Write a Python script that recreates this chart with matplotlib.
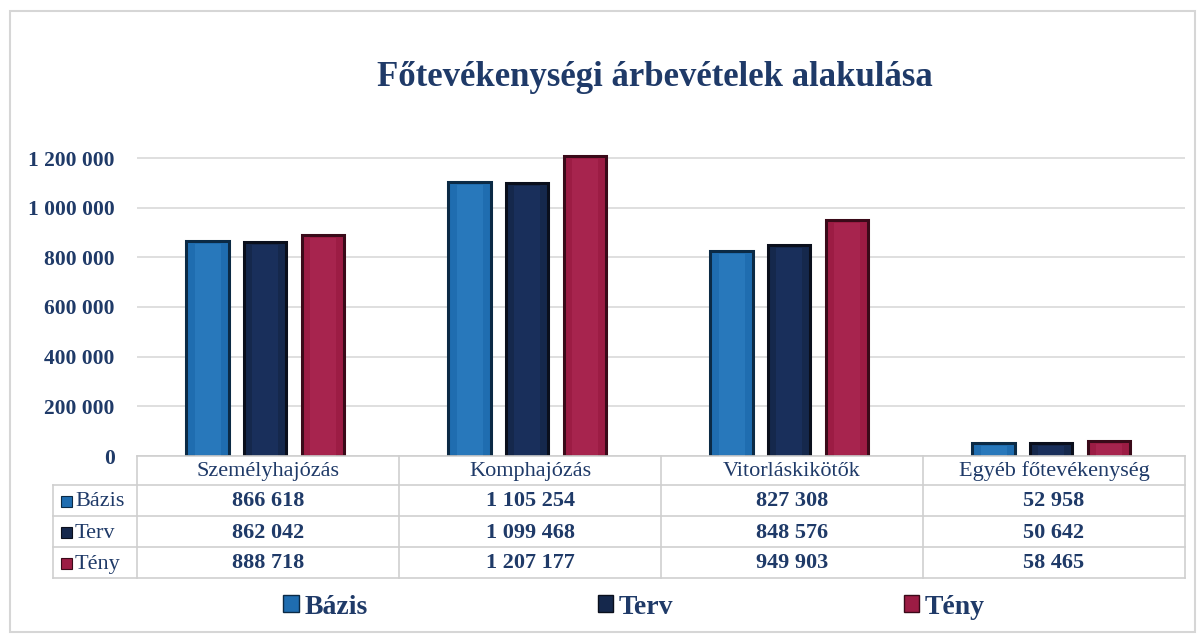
import matplotlib
matplotlib.use("Agg")
import matplotlib.pyplot as plt
from matplotlib.lines import Line2D
from matplotlib.patches import Rectangle, Patch

categories = ["Személyhajózás", "Komphajózás", "Vitorláskikötők", "Egyéb főtevékenység"]
series_names = ["Bázis", "Terv", "Tény"]
bazis = [866618, 1105254, 827308, 52958]
terv = [862042, 1099468, 848576, 50642]
teny = [888718, 1207177, 949903, 58465]
yticks = [0, 200000, 400000, 600000, 800000, 1000000, 1200000]
title = "Főtevékenységi árbevételek alakulása"

colors = ["#1f6db0", "#15284c", "#9c1c44"]
inner_colors = ["#2f80c4", "#1d3566", "#b02a55"]
edge_colors = ["#0b2a45", "#0a0f1c", "#3a0a19"]
text_color = "#1f3a68"
serif = ["Liberation Serif", "DejaVu Serif"]

W, H = 1200, 639
fig = plt.figure(figsize=(W / 100, H / 100), dpi=100)
plt.rcParams["font.family"] = serif

def fx(px):
    return px / W

def fy(py):
    return 1 - py / H

ymax = 1260000
left_px, right_px = 137, 1185
bottom_px = 456
px_per_unit = (456 - 158) / 1200000
top_px = bottom_px - ymax * px_per_unit
ax = fig.add_axes([fx(left_px), fy(bottom_px), fx(right_px - left_px), (bottom_px - top_px) / H])
ax.set_xlim(-0.5, len(categories) - 0.5)
ax.set_ylim(0, ymax)

def fmt(v):
    return f"{v:,}".replace(",", " ")

series = [bazis, terv, teny]
width = 0.163
offsets = [-0.23, -0.012, 0.21]
xs = list(range(len(categories)))
for vals, off, c, ic, ec in zip(series, offsets, colors, inner_colors, edge_colors):
    ax.bar([x + off for x in xs], vals, width=width, color=c, edgecolor=ec, linewidth=2.2, zorder=3)
    # lighter inner face for a bevelled look
    ax.bar([x + off for x in xs], [v - 12000 for v in vals], width=width * 0.6, color=ic,
           edgecolor="none", alpha=0.6, zorder=4)

ax.set_yticks(yticks)
ax.set_yticklabels([fmt(v) for v in yticks], fontsize=15.5, fontweight="bold", color=text_color)
ax.tick_params(axis="y", length=0, pad=16)
ax.tick_params(axis="x", length=0, labelbottom=False)
ax.yaxis.grid(True, color="#d9d9d9", linewidth=1.2, zorder=0)
ax.set_axisbelow(True)
for sp in ax.spines.values():
    sp.set_visible(False)

# data table
row_px = [456, 485, 516, 547, 578]
col_px = [left_px + (right_px - left_px) * i / len(categories) for i in range(len(categories) + 1)]
label_left_px = 53
line_kw = dict(color="#cfcfcf", linewidth=1.2)
fig.add_artist(Line2D([fx(left_px), fx(right_px)], [fy(row_px[0])] * 2, **line_kw))
for r in row_px[1:]:
    fig.add_artist(Line2D([fx(label_left_px), fx(right_px)], [fy(r)] * 2, **line_kw))
for c in col_px:
    fig.add_artist(Line2D([fx(c)] * 2, [fy(row_px[0]), fy(row_px[-1])], **line_kw))
fig.add_artist(Line2D([fx(label_left_px)] * 2, [fy(row_px[1]), fy(row_px[-1])], **line_kw))

for i, cat in enumerate(categories):
    cx = (col_px[i] + col_px[i + 1]) / 2
    fig.text(fx(cx), fy((row_px[0] + row_px[1]) / 2 + 1), cat, ha="center", va="center",
             fontsize=16, color=text_color)
for j, (name, vals) in enumerate(zip(series_names, series)):
    cy = (row_px[j + 1] + row_px[j + 2]) / 2
    fig.add_artist(Rectangle((fx(61), fy(cy + 6)), fx(11), 11 / H, facecolor=colors[j],
                             edgecolor=edge_colors[j], linewidth=0.8))
    fig.text(fx(75), fy(cy + 1.5), name, ha="left", va="center", fontsize=16, color=text_color)
    for i, v in enumerate(vals):
        cx = (col_px[i] + col_px[i + 1]) / 2
        fig.text(fx(cx), fy(cy + 1), fmt(v), ha="center", va="center", fontsize=16,
                 fontweight="bold", color=text_color)

# title
fig.text(fx(655), fy(78), title, ha="center", va="center", fontsize=25, fontweight="bold",
         color=text_color)

# legend
handles = [Patch(facecolor=c, edgecolor=ec, linewidth=1) for c, ec in zip(colors, edge_colors)]
leg = fig.legend(handles, series_names, loc="center", bbox_to_anchor=(fx(634), fy(607)), ncol=3,
                 frameon=False, handlelength=0.55, handleheight=0.55, handletextpad=0.2,
                 columnspacing=8.3, prop={"family": serif, "weight": "bold", "size": 20})
for t in leg.get_texts():
    t.set_color(text_color)

# outer frame
fig.add_artist(Rectangle((fx(10), fy(632)), fx(1185), (632 - 11) / H, fill=False,
                         edgecolor="#d6d6d6", linewidth=1.5))

fig.savefig("out.png", dpi=100)
